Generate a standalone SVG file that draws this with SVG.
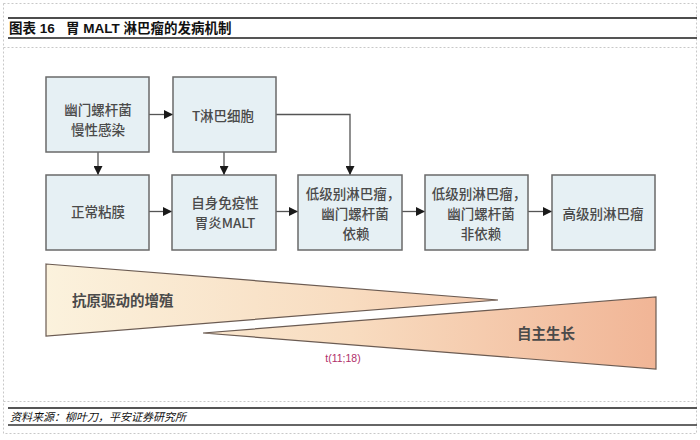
<svg xmlns="http://www.w3.org/2000/svg" width="700" height="440" viewBox="0 0 700 440">
<defs>
<style>
.frame{fill:none;stroke:#c8c8c8;stroke-width:1;stroke-dasharray:2 2}
.box{fill:#e6f0f4;stroke:#6a6a6a;stroke-width:1.5}
.bt{font-family:"Noto Sans CJK SC","Noto Sans",sans-serif;font-size:13.5px;font-weight:500;fill:#4a4a4a;text-anchor:middle;dominant-baseline:central}
.con{fill:none;stroke:#555;stroke-width:1.3}
.tri{stroke:#6b5b52;stroke-width:1.2}
.tt{font-family:"Noto Sans CJK SC","Noto Sans",sans-serif;font-size:14.5px;font-weight:600;fill:#4a4a4a;dominant-baseline:central}
</style>
<marker id="ah" viewBox="0 0 10 10" refX="10" refY="5" markerWidth="9" markerHeight="9" markerUnits="userSpaceOnUse" orient="auto">
<path d="M0,0 L10,5 L0,10 z" fill="#1a1a1a"/>
</marker>
<linearGradient id="g" gradientUnits="userSpaceOnUse" x1="46" y1="0" x2="656" y2="0">
<stop offset="0" stop-color="#fbf2dd"/>
<stop offset="0.5" stop-color="#f8dcc0"/>
<stop offset="1" stop-color="#f1b596"/>
</linearGradient>
</defs>
<rect width="700" height="440" fill="#ffffff"/>
<rect class="frame" x="3.5" y="3.5" width="693" height="430"/>
<line class="frame" x1="3.5" y1="47.5" x2="696.5" y2="47.5"/>
<line class="frame" x1="3.5" y1="401.5" x2="696.5" y2="401.5"/>
<line x1="8" y1="18" x2="697" y2="18" stroke="#111" stroke-width="1.5"/>
<text x="9" y="33" xml:space="preserve" font-family="'Liberation Sans','Noto Sans CJK SC',sans-serif" font-size="13.5" font-weight="bold" fill="#111" style="white-space:pre">图表 16   胃 MALT 淋巴瘤的发病机制</text>
<line x1="8" y1="38" x2="697" y2="38" stroke="#555" stroke-width="2.2"/>
<line x1="8" y1="408" x2="697" y2="408" stroke="#555" stroke-width="2"/>
<text x="10" y="421" font-family="'Liberation Sans','Noto Sans CJK SC',sans-serif" font-size="11" font-style="italic" fill="#111">资料来源：柳叶刀，平安证券研究所</text>
<line x1="8" y1="425" x2="697" y2="425" stroke="#333" stroke-width="1.5"/>

<g id="connectors">
<line class="con" x1="149" y1="114.5" x2="173" y2="114.5" marker-end="url(#ah)"/>
<line class="con" x1="98" y1="152" x2="98" y2="175" marker-end="url(#ah)"/>
<line class="con" x1="224" y1="152" x2="224" y2="175" marker-end="url(#ah)"/>
<polyline class="con" points="276,114.5 350,114.5 350,175" marker-end="url(#ah)"/>
<line class="con" x1="149" y1="211.5" x2="172" y2="211.5" marker-end="url(#ah)"/>
<line class="con" x1="276" y1="211.5" x2="298" y2="211.5" marker-end="url(#ah)"/>
<line class="con" x1="402" y1="211.5" x2="425" y2="211.5" marker-end="url(#ah)"/>
<line class="con" x1="528" y1="211.5" x2="552" y2="211.5" marker-end="url(#ah)"/>
</g>

<g id="n1"><rect class="box" x="46" y="77" width="103" height="75"/>
<text class="bt" x="98" y="109">幽门螺杆菌</text><text class="bt" x="98" y="129">慢性感染</text></g>
<g id="n2"><rect class="box" x="173" y="77" width="103" height="75"/>
<text class="bt" x="223" y="115">T淋巴细胞</text></g>
<g id="n3"><rect class="box" x="46" y="175" width="103" height="75"/>
<text class="bt" x="98" y="211">正常粘膜</text></g>
<g id="n4"><rect class="box" x="172" y="175" width="104" height="75"/>
<text class="bt" x="225" y="202">自身免疫性</text><text class="bt" x="225" y="222">胃炎MALT</text></g>
<g id="n5"><rect class="box" x="298" y="175" width="104" height="75"/>
<text class="bt" x="353" y="193">低级别淋巴瘤，</text><text class="bt" x="355" y="213">幽门螺杆菌</text><text class="bt" x="356" y="233">依赖</text></g>
<g id="n6"><rect class="box" x="425" y="175" width="103" height="75"/>
<text class="bt" x="479" y="193">低级别淋巴瘤，</text><text class="bt" x="481" y="213">幽门螺杆菌</text><text class="bt" x="481" y="233">非依赖</text></g>
<g id="n7"><rect class="box" x="552" y="175" width="103" height="75"/>
<text class="bt" x="603" y="213">高级别淋巴瘤</text></g>

<g id="triangles">
<polygon class="tri" fill="url(#g)" points="46,264 498,300 46,336"/>
<polygon class="tri" fill="url(#g)" points="203,333 656,297 656,369"/>
<text class="tt" x="72" y="299">抗原驱动的增殖</text>
<text class="tt" x="517" y="332">自主生长</text>
<text x="343" y="362" font-family="'Liberation Sans',sans-serif" font-size="10.5" fill="#b0306a" text-anchor="middle">t(11;18)</text>
</g>
</svg>
